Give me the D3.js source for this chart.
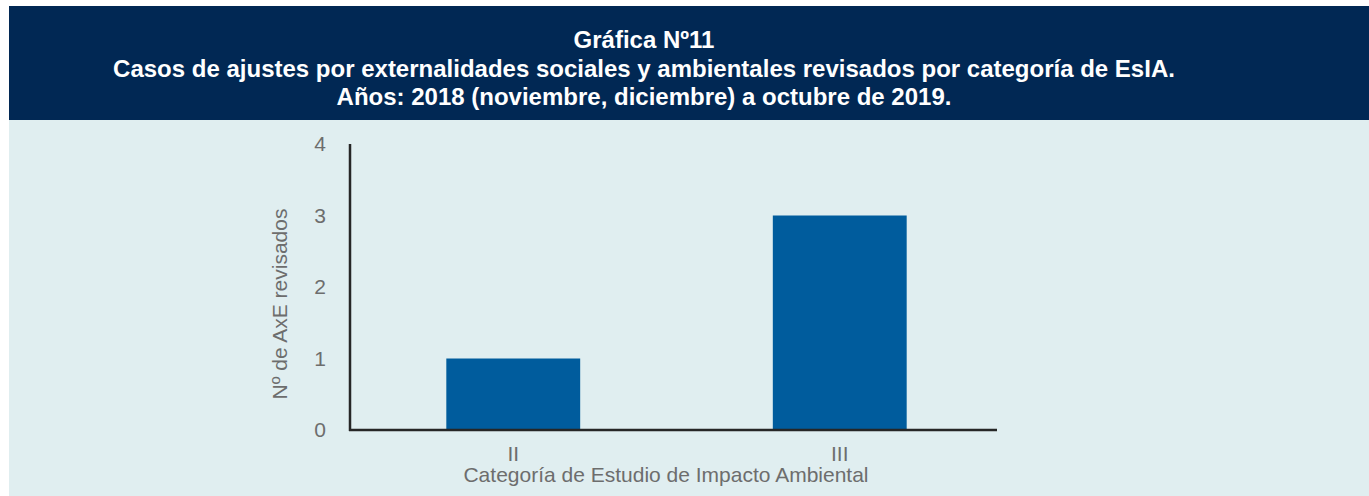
<!DOCTYPE html>
<html>
<head>
<meta charset="utf-8">
<script src="https://cdn.jsdelivr.net/npm/d3@7"></script>
<style>
	html, body { margin: 0; padding: 0; background: #fff; }
	svg { display: block; font-family: "Liberation Sans", Arial, sans-serif; }
</style>
</head>
<body>
<script>
// data
var categories = ["II", "III"];
var values = [1, 3];
var yTicks = [0, 1, 2, 3, 4];
var titleLines = [
	"Gráfica Nº11",
	"Casos de ajustes por externalidades sociales y ambientales revisados por categoría de EsIA.",
	"Años: 2018 (noviembre, diciembre) a octubre de 2019."
];
var xTitle = "Categoría de Estudio de Impacto Ambiental";
var yTitle = "Nº de AxE revisados";

// dimensions
var width = 1369,
	height = 496,
	headerTop = 6,
	headerBottom = 120,
	panelLeft = 9,
	plotLeft = 350,
	plotRight = 997,
	plotTop = 144,
	plotBottom = 430,
	grey = "#6d6d6d";

var svg = d3.select("body").append("svg")
	.attr("width", width)
	.attr("height", height);

// header box
svg.append("rect")
	.attr("x", panelLeft)
	.attr("y", headerTop)
	.attr("width", width - panelLeft)
	.attr("height", headerBottom - headerTop)
	.attr("fill", "#012854");

svg.append("g")
	.selectAll("text")
	.data(titleLines)
	.enter()
	.append("text")
	.text(function (d) { return d; })
	.attr("x", 644)
	.attr("y", function (d, i) { return 48 + i * 28.5; })
	.attr("text-anchor", "middle")
	.attr("fill", "#fff")
	.style("font-size", "24px")
	.style("font-weight", "bold");

// chart panel
svg.append("rect")
	.attr("x", panelLeft)
	.attr("y", headerBottom)
	.attr("width", width - panelLeft)
	.attr("height", height - headerBottom)
	.attr("fill", "#e0eef0");

var x = d3.scaleBand()
	.domain(categories)
	.range([plotLeft, 1003])
	.paddingInner(0.59)
	.paddingOuter(0.295);

var y = d3.scaleLinear()
	.domain([0, 4])
	.range([plotBottom, plotTop]);

// bars
svg.append("g")
	.selectAll("rect")
	.data(values)
	.enter()
	.append("rect")
	.attr("x", function (d, i) { return x(categories[i]); })
	.attr("y", function (d) { return y(d); })
	.attr("width", x.bandwidth())
	.attr("height", function (d) { return y(0) - y(d); })
	.attr("fill", "#005c9d");

// y axis
var yAxis = svg.append("g")
	.attr("transform", "translate(" + plotLeft + ",0)")
	.call(d3.axisLeft(y).tickValues(yTicks).tickSize(0).tickPadding(24).tickFormat(d3.format("d")));
yAxis.select(".domain").remove();
yAxis.selectAll("text")
	.attr("fill", grey)
	.style("font-size", "21px")
	.style("font-family", "Liberation Sans, Arial, sans-serif");

// x axis
var xAxis = svg.append("g")
	.attr("transform", "translate(0," + plotBottom + ")")
	.call(d3.axisBottom(x).tickSize(0).tickPadding(16));
xAxis.select(".domain").remove();
xAxis.selectAll("text")
	.attr("fill", grey)
	.style("font-size", "21px")
	.style("font-family", "Liberation Sans, Arial, sans-serif");

// axis lines
svg.append("line")
	.attr("x1", plotLeft).attr("y1", plotTop)
	.attr("x2", plotLeft).attr("y2", plotBottom + 1)
	.style("stroke", "#262626")
	.style("stroke-width", "2.5px");
svg.append("line")
	.attr("x1", plotLeft - 1).attr("y1", plotBottom)
	.attr("x2", plotRight).attr("y2", plotBottom)
	.style("stroke", "#262626")
	.style("stroke-width", "2.5px");

// axis titles
svg.append("text")
	.text(xTitle)
	.attr("x", 666)
	.attr("y", 482)
	.attr("text-anchor", "middle")
	.attr("fill", grey)
	.style("font-size", "21px");

svg.append("text")
	.text(yTitle)
	.attr("transform", "translate(287,304) rotate(-90)")
	.attr("text-anchor", "middle")
	.attr("fill", grey)
	.style("font-size", "21px");
</script>
</body>
</html>
